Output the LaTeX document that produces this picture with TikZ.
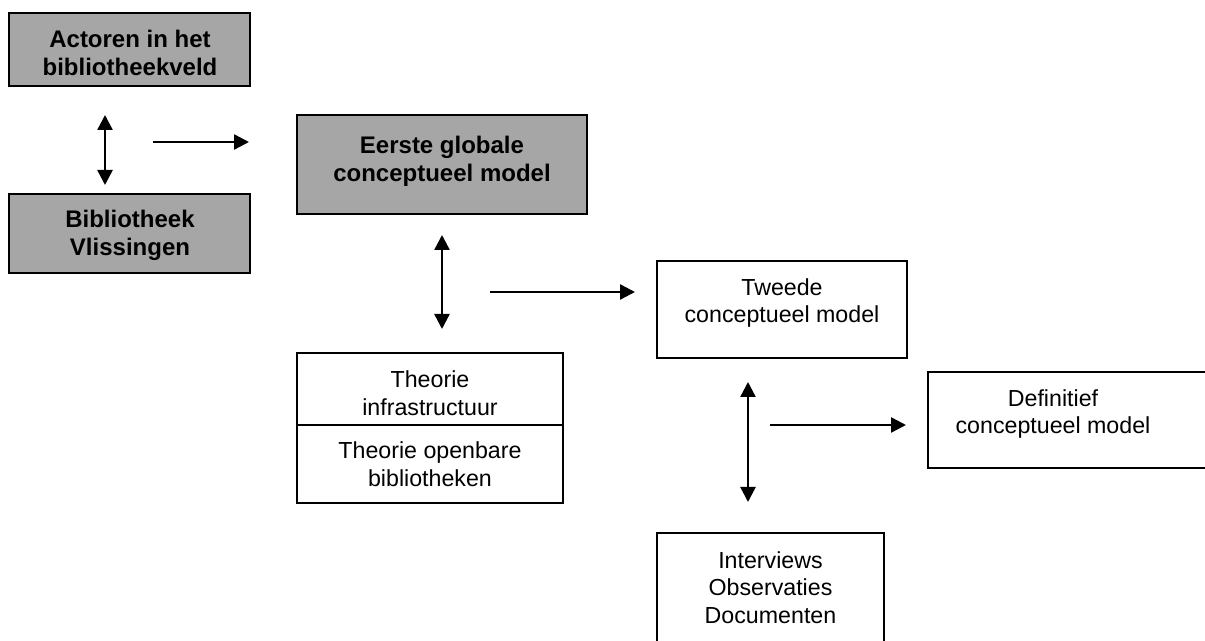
\documentclass[tikz,border=0pt]{standalone}
\usepackage{fontspec}
\setmainfont{Liberation Sans}
\usetikzlibrary{arrows.meta,positioning}
\definecolor{vakgrijs}{HTML}{A6A6A6}

\tikzset{
  box/.style={draw, line width=0.8pt, inner sep=0pt, outer sep=0pt},
  grijs/.style={box, fill=vakgrijs},
  tekst/.style={align=center, inner sep=0pt, font=\fontsize{11.6pt}{13.8pt}\selectfont},
  vet/.style={tekst, font=\fontsize{12pt}{14pt}\selectfont\bfseries},
  pijl/.style={line width=1.2pt, -{Triangle[length=7.5pt,width=7.5pt]}},
  dubbel/.style={line width=1.2pt, {Triangle[length=7.5pt,width=7.5pt]}-{Triangle[length=7.5pt,width=7.5pt]}}
}

\begin{document}
\begin{tikzpicture}[x=0.5pt, y=-0.5pt]
        \useasboundingbox (0,0) rectangle (1205,641);
        % grijze vakken
        \node[grijs, minimum width=120.5pt, minimum height=36.5pt] (actoren) at (129.5,49.5) {};
        \node[vet] (actorentxt) at (130,53) {Actoren in het\\bibliotheekveld};
        \node[grijs, minimum width=120.5pt, minimum height=39.5pt] (vlissingen) at (129.5,233.5) {};
        \node[vet] (vlissingentxt) at (130,235) {Bibliotheek\\Vlissingen};
        \node[grijs, minimum width=145pt, minimum height=49.5pt] (eerste) at (442,164.5) {};
        \node[vet, below=10.5pt of eerste.north] (eerstetxt) {Eerste globale\\conceptueel model};
        % witte vakken
        \node[box, minimum width=125pt, minimum height=48.5pt] (tweede) at (782,309.5) {};
        \node[tekst, below=8.5pt of tweede.north] (tweedetxt) {Tweede\\conceptueel model};
        \node[box, minimum width=133pt, minimum height=36pt] (theoA) at (430,389) {};
        \node[box, minimum width=133pt, minimum height=39pt, below=0pt of theoA] (theoB) {};
        \node[tekst] (theoAtxt) at (430,393) {Theorie\\infrastructuur};
        \node[tekst] (theoBtxt) at (theoB) {Theorie openbare\\bibliotheken};
        \node[box, minimum width=140pt, minimum height=48pt] (definitief) at (1068,420) {};
        \node[tekst, below=8.5pt of definitief.north, xshift=-7.5pt] (definitieftxt) {Definitief\\conceptueel model};
        \node[box, minimum width=113.5pt, minimum height=64pt] (interviews) at (770.5,597) {};
        \node[tekst, below=9pt of interviews.north] (interviewstxt) {Interviews\\Observaties\\Documenten};

        % pijlen
        \coordinate (v1a) at (105,115);
        \coordinate (v1b) at (105,185);
        \coordinate (h1a) at (153,142);
        \coordinate (h1b) at (249,142);
        \coordinate (v2a) at (442,235);
        \coordinate (v2b) at (442,329);
        \coordinate (h2a) at (490,292);
        \coordinate (h2b) at (635,292);
        \coordinate (v3a) at (748,382);
        \coordinate (v3b) at (748,502);
        \coordinate (h3a) at (770,425);
        \coordinate (h3b) at (906,425);
        \draw[dubbel] (v1a) -- (v1b);
        \draw[pijl] (h1a) -- (h1b);
        \draw[dubbel] (v2a) -- (v2b);
        \draw[pijl] (h2a) -- (h2b);
        \draw[dubbel] (v3a) -- (v3b);
        \draw[pijl] (h3a) -- (h3b);
      \end{tikzpicture}
\end{document}
